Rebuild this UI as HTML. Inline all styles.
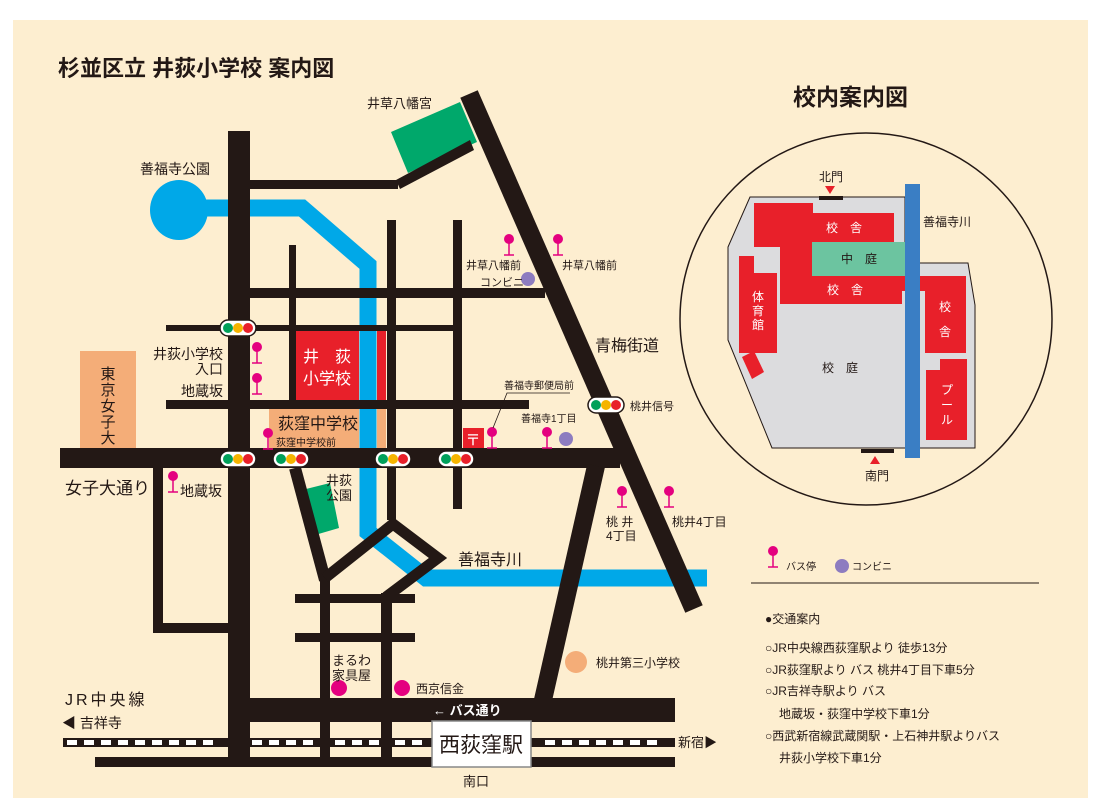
<!DOCTYPE html>
<html><head><meta charset="utf-8"><style>
html,body{margin:0;padding:0;background:#fff;}
svg{display:block;}
text{font-family:"Liberation Sans","Noto Sans CJK JP",sans-serif;fill:#231815;}
</style></head><body>
<svg width="1102" height="811" viewBox="0 0 1102 811" xmlns="http://www.w3.org/2000/svg">
<rect x="13" y="20" width="1075" height="778" fill="#fdeed0"/>
<text x="58" y="76" font-size="22" font-weight="bold">杉並区立 井荻小学校  案内図</text>

<!-- river -->
<ellipse cx="179" cy="210" rx="29" ry="30" fill="#00a8e8"/>
<polyline points="200,208 302,208 368,265 368,532 426,578 707,578" fill="none" stroke="#00a8e8" stroke-width="17" stroke-linejoin="miter"/>

<!-- parks / buildings -->
<polygon points="391,132 460,102 477,142 408,173" fill="#00a86b"/>
<polygon points="302,490 330,483 339,528 315,535" fill="#00a86b"/>
<rect x="80" y="351" width="56" height="97" fill="#f4ad78"/>
<rect x="269" y="409" width="90" height="39" fill="#f4ad78"/>
<rect x="377" y="409" width="9" height="39" fill="#f4ad78"/>
<rect x="296" y="331" width="63" height="69" fill="#e8202a"/>
<rect x="377" y="331" width="9" height="69" fill="#e8202a"/>

<!-- roads -->
<g fill="#231815">
<rect x="228" y="131" width="22" height="636"/>
<rect x="250" y="180" width="148" height="9"/>
<polygon points="396,180 470,140 474,150 400,189"/>
<line x1="469" y1="94" x2="694" y2="609" stroke="#231815" stroke-width="19"/>
<rect x="250" y="288" width="295" height="10"/>
<rect x="166" y="325" width="289" height="6"/>
<rect x="289" y="245" width="7" height="155"/>
<rect x="387" y="220" width="9" height="300"/>
<rect x="453" y="220" width="9" height="289"/>
<rect x="166" y="400" width="363" height="9"/>
<rect x="60" y="448" width="560" height="20"/>
<rect x="153" y="468" width="10" height="165"/>
<rect x="153" y="623" width="77" height="10"/>
<line x1="295" y1="468" x2="325" y2="580" stroke="#231815" stroke-width="12"/>
<rect x="320" y="575" width="10" height="190"/>
<polyline points="325,578 393,524 438,558 386,597" fill="none" stroke="#231815" stroke-width="11"/>
<rect x="381" y="593" width="11" height="172"/>
<rect x="295" y="594" width="120" height="9"/>
<rect x="295" y="633" width="120" height="9"/>
<line x1="596" y1="466" x2="543" y2="700" stroke="#231815" stroke-width="18"/>
<rect x="228" y="698" width="447" height="24"/>
<rect x="95" y="757" width="580" height="10"/>
<rect x="63" y="738" width="612" height="9"/>
</g>
<!-- rail dashes -->
<g fill="#fff">
<rect x="67" y="740" width="10" height="5"/><rect x="84" y="740" width="10" height="5"/><rect x="101" y="740" width="10" height="5"/><rect x="118" y="740" width="10" height="5"/><rect x="135" y="740" width="10" height="5"/><rect x="152" y="740" width="10" height="5"/><rect x="169" y="740" width="10" height="5"/><rect x="186" y="740" width="10" height="5"/><rect x="203" y="740" width="10" height="5"/><rect x="252" y="740" width="10" height="5"/><rect x="269" y="740" width="10" height="5"/><rect x="286" y="740" width="10" height="5"/><rect x="303" y="740" width="10" height="5"/><rect x="335" y="740" width="10" height="5"/><rect x="352" y="740" width="10" height="5"/><rect x="369" y="740" width="10" height="5"/><rect x="395" y="740" width="10" height="5"/><rect x="412" y="740" width="10" height="5"/><rect x="545" y="740" width="10" height="5"/><rect x="562" y="740" width="10" height="5"/><rect x="579" y="740" width="10" height="5"/><rect x="596" y="740" width="10" height="5"/><rect x="613" y="740" width="10" height="5"/><rect x="630" y="740" width="10" height="5"/><rect x="647" y="740" width="10" height="5"/>
</g>
<rect x="432" y="721" width="99" height="46" fill="#fff" stroke="#888" stroke-width="1.5"/>
<text x="481" y="752" font-size="21" text-anchor="middle">西荻窪駅</text>
<text x="476" y="786" font-size="13" text-anchor="middle">南口</text>
<text x="433" y="715" font-size="13" fill="#fff" style="fill:#fff" font-weight="bold">← バス通り</text>

<!-- post office -->
<rect x="463" y="428" width="21" height="20" fill="#e8202a"/>
<text x="473" y="445" font-size="15" text-anchor="middle" style="fill:#fff">〒</text>

<!-- traffic lights -->
<defs>
<g id="tl"><rect x="-18" y="-8" width="36" height="16" rx="8" fill="#fff" stroke="#231815" stroke-width="1.5"/><circle cx="-10" cy="0" r="5" fill="#00a05a"/><circle cx="0" cy="0" r="5" fill="#f5b400"/><circle cx="10" cy="0" r="5" fill="#e8202a"/></g>
<g id="bs"><circle cx="0" cy="5" r="5" fill="#e4007f"/><line x1="0" y1="8" x2="0" y2="21" stroke="#e4007f" stroke-width="1.5"/><line x1="-5" y1="21" x2="5" y2="21" stroke="#e4007f" stroke-width="1.5"/></g>
</defs>
<use href="#tl" x="238" y="328"/><use href="#tl" x="238" y="459"/><use href="#tl" x="291" y="459"/><use href="#tl" x="393" y="459"/><use href="#tl" x="456" y="459"/><use href="#tl" x="606" y="405"/>
<use href="#bs" x="257" y="342"/><use href="#bs" x="257" y="373"/><use href="#bs" x="268" y="428"/><use href="#bs" x="492" y="427"/><use href="#bs" x="547" y="427"/><use href="#bs" x="509" y="234"/><use href="#bs" x="558" y="234"/><use href="#bs" x="173" y="471"/><use href="#bs" x="622" y="486"/><use href="#bs" x="669" y="486"/><use href="#bs" x="773" y="546"/>
<circle cx="528" cy="279" r="7" fill="#8d7cc0"/><circle cx="566" cy="439" r="7" fill="#8d7cc0"/><circle cx="842" cy="566" r="7" fill="#8d7cc0"/>
<circle cx="339" cy="688" r="8" fill="#e4007f"/><circle cx="402" cy="688" r="8" fill="#e4007f"/>
<circle cx="576" cy="662" r="11" fill="#f4ad78"/>
<polyline points="570,393 507,393 493,428" fill="none" stroke="#231815" stroke-width="0.8"/>

<!-- labels -->
<text x="140" y="174" font-size="14">善福寺公園</text>
<text x="367" y="108" font-size="13">井草八幡宮</text>
<text x="466" y="269" font-size="11">井草八幡前</text>
<text x="480" y="286" font-size="11">コンビニ</text>
<text x="562" y="269" font-size="11">井草八幡前</text>
<text x="595" y="351" font-size="16">青梅街道</text>
<text x="504" y="389" font-size="10">善福寺郵便局前</text>
<text x="630" y="410" font-size="11">桃井信号</text>
<text x="521" y="422" font-size="10">善福寺1丁目</text>
<text x="223" y="359" font-size="14" text-anchor="end">井荻小学校</text>
<text x="223" y="374" font-size="14" text-anchor="end">入口</text>
<text x="223" y="396" font-size="14" text-anchor="end">地蔵坂</text>
<g font-size="15"><text x="108" y="379" text-anchor="middle">東</text><text x="108" y="395" text-anchor="middle">京</text><text x="108" y="411" text-anchor="middle">女</text><text x="108" y="427" text-anchor="middle">子</text><text x="108" y="443" text-anchor="middle">大</text></g>
<text x="327" y="362" font-size="16" text-anchor="middle" style="fill:#fff">井　荻</text>
<text x="327" y="384" font-size="16" text-anchor="middle" style="fill:#fff">小学校</text>
<text x="318" y="429" font-size="16" text-anchor="middle">荻窪中学校</text>
<text x="276" y="446" font-size="10">荻窪中学校前</text>
<text x="65" y="494" font-size="17">女子大通り</text>
<text x="180" y="496" font-size="14">地蔵坂</text>
<text x="326" y="485" font-size="13">井荻</text>
<text x="326" y="500" font-size="13">公園</text>
<text x="458" y="565" font-size="16">善福寺川</text>
<text x="606" y="526" font-size="12">桃 井</text>
<text x="606" y="540" font-size="12">4丁目</text>
<text x="672" y="526" font-size="12">桃井4丁目</text>
<text x="596" y="667" font-size="12">桃井第三小学校</text>
<text x="332" y="665" font-size="13">まるわ</text>
<text x="332" y="680" font-size="13">家具屋</text>
<text x="416" y="693" font-size="12">西京信金</text>
<text x="65" y="705" font-size="16" letter-spacing="3">JR中央線</text>
<text x="62" y="728" font-size="14">◀ 吉祥寺</text>
<text x="678" y="747" font-size="13">新宿▶</text>

<!-- right panel -->
<text x="793" y="105" font-size="23" font-weight="bold">校内案内図</text>
<circle cx="866" cy="319" r="186" fill="none" stroke="#231815" stroke-width="1.5"/>
<polygon points="750,197 905,197 905,263 968,263 975,305 975,448 772,448 728,340 728,247" fill="#dcdcde" stroke="#231815" stroke-width="1"/>
<g fill="#e8202a">
<rect x="754" y="203" width="59" height="44"/>
<rect x="813" y="213" width="81" height="29"/>
<rect x="780" y="242" width="33" height="62"/>
<rect x="780" y="276" width="122" height="28"/>
<rect x="902" y="276" width="64" height="15"/>
<rect x="925" y="276" width="41" height="77"/>
<rect x="739" y="256" width="15" height="97"/><rect x="739" y="273" width="38" height="80"/>
<rect x="926" y="370" width="41" height="70"/><rect x="940" y="359" width="27" height="15"/>
<polygon points="742,357 754,351 764,372 752,379"/>
</g>
<rect x="812" y="242" width="94" height="34" fill="#6cc4a0"/>
<rect x="905" y="184" width="15" height="274" fill="#3a7ec4"/>
<rect x="819" y="196" width="24" height="4" fill="#231815"/>
<rect x="861" y="449" width="33" height="4" fill="#231815"/>
<polygon points="825,186 835,186 830,194" fill="#e8202a"/>
<polygon points="870,464 880,464 875,456" fill="#e8202a"/>
<text x="831" y="181" font-size="12" text-anchor="middle">北門</text>
<text x="877" y="480" font-size="12" text-anchor="middle">南門</text>
<text x="923" y="226" font-size="12">善福寺川</text>
<text x="844" y="232" font-size="12" text-anchor="middle" style="fill:#fff">校　舎</text>
<text x="859" y="263" font-size="12" text-anchor="middle">中　庭</text>
<text x="845" y="294" font-size="12" text-anchor="middle" style="fill:#fff">校　舎</text>
<text x="945" y="311" font-size="12" text-anchor="middle" style="fill:#fff">校</text>
<text x="945" y="336" font-size="12" text-anchor="middle" style="fill:#fff">舎</text>
<g font-size="12" style="fill:#fff"><text x="758" y="301" text-anchor="middle" style="fill:#fff">体</text><text x="758" y="315" text-anchor="middle" style="fill:#fff">育</text><text x="758" y="329" text-anchor="middle" style="fill:#fff">館</text></g>
<text x="840" y="372" font-size="12" text-anchor="middle">校　庭</text>
<text x="947" y="394" font-size="12" text-anchor="middle" style="fill:#fff">プ</text>
<text x="947" y="409" font-size="12" text-anchor="middle" style="fill:#fff">ー</text>
<text x="947" y="424" font-size="12" text-anchor="middle" style="fill:#fff">ル</text>

<!-- legend -->
<text x="786" y="570" font-size="10">バス停</text>
<text x="852" y="570" font-size="10">コンビニ</text>
<line x1="751" y1="583" x2="1039" y2="583" stroke="#231815" stroke-width="1"/>
<g font-size="12">
<text x="765" y="623">●交通案内</text>
<text x="765" y="652">○JR中央線西荻窪駅より 徒歩13分</text>
<text x="765" y="674">○JR荻窪駅より バス 桃井4丁目下車5分</text>
<text x="765" y="695">○JR吉祥寺駅より バス</text>
<text x="779" y="718">地蔵坂・荻窪中学校下車1分</text>
<text x="765" y="740">○西武新宿線武蔵関駅・上石神井駅よりバス</text>
<text x="779" y="762">井荻小学校下車1分</text>
</g>
</svg>
</body></html>
